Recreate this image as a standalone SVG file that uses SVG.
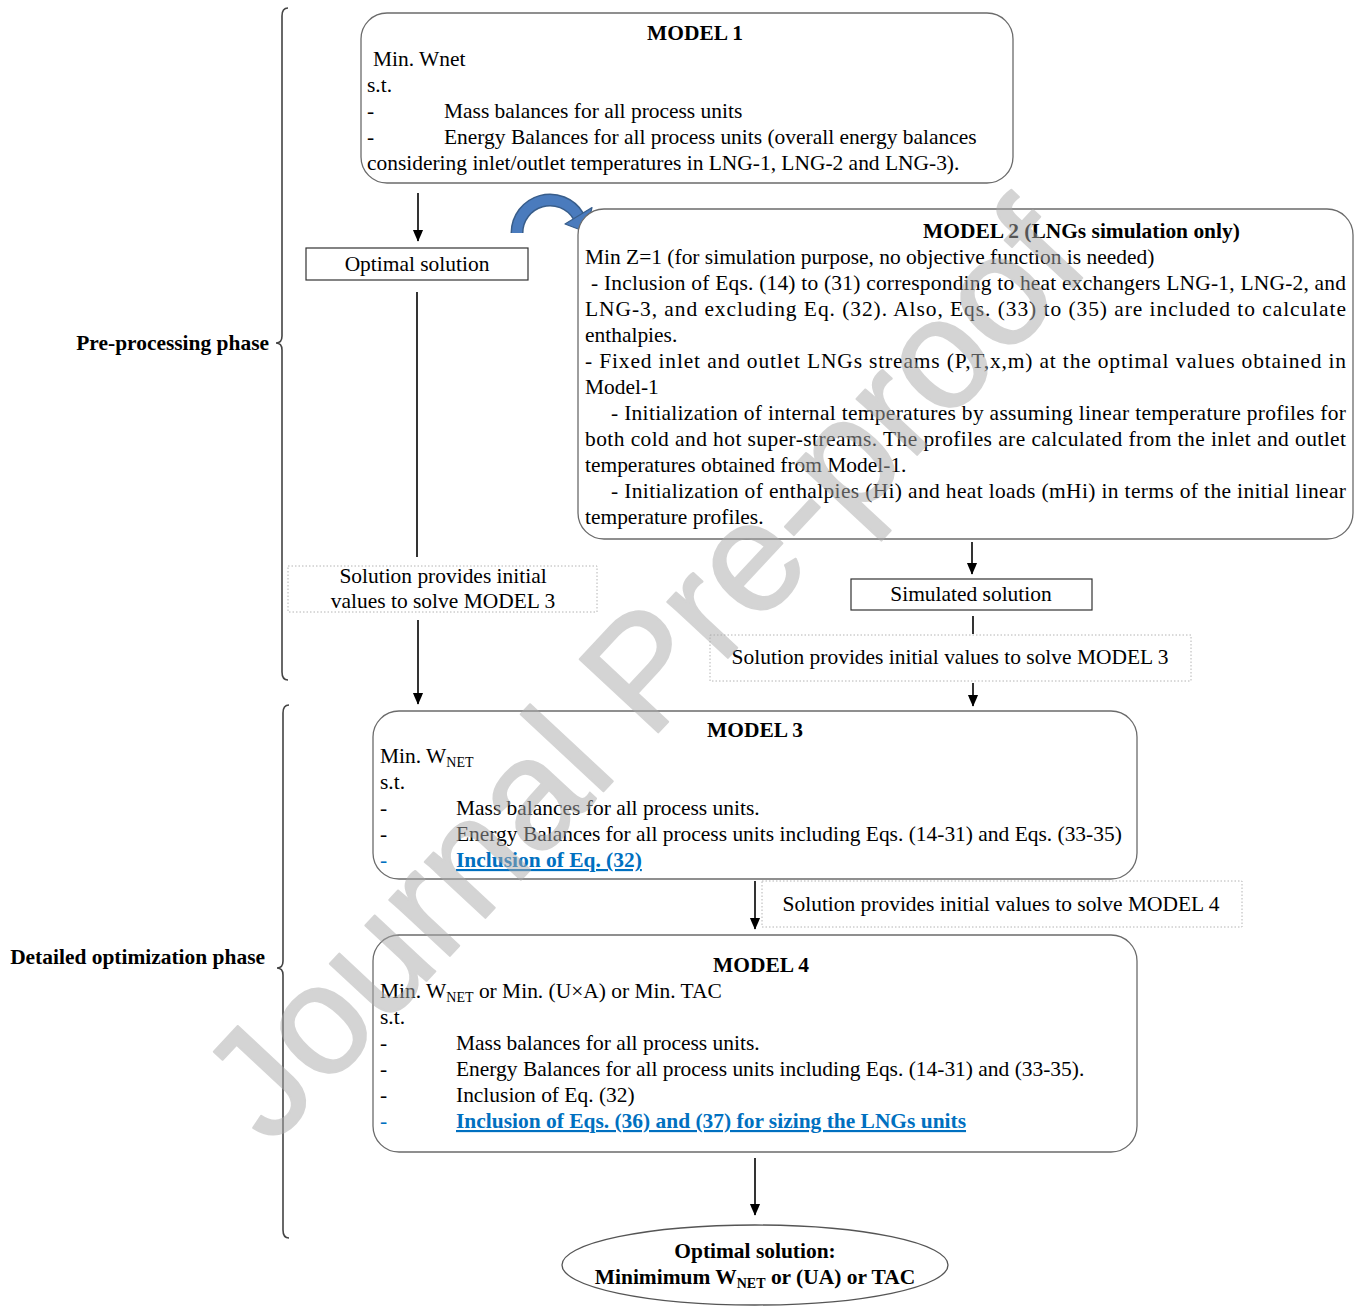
<svg xmlns="http://www.w3.org/2000/svg" width="1359" height="1306" viewBox="0 0 1359 1306">
<style>
.t{font-family:"Liberation Serif","Times New Roman",serif;font-size:21.45px;fill:#000}
.b{font-weight:bold}
.m{text-anchor:middle}
.e{text-anchor:end}
.blue{fill:#0070c0}
.u{text-decoration:underline}
.box{fill:#fff;stroke:#6b6b6b;stroke-width:1.3}
.rect{fill:#fff;stroke:#333;stroke-width:1.2}
.dot{fill:none;stroke:#b4b4b4;stroke-width:1;stroke-dasharray:1.5 2}
.ln{stroke:#000;stroke-width:1.6;fill:none}
.br{stroke:#444;stroke-width:1.6;fill:none}
.wm{font-family:"Liberation Sans",Arial,sans-serif;font-size:156px;fill:#aaa;stroke:#aaa;stroke-width:2;stroke-linejoin:round}
</style>
<defs>
<marker id="a" markerUnits="userSpaceOnUse" markerWidth="12" markerHeight="14" refX="13" refY="6" orient="auto" viewBox="0 0 14 12">
<path d="M0,0 L14,6 L0,12 Z" fill="#000"/>
</marker>
</defs>

<g id="braces">
<path class="br" d="M288,8 Q282,8 282,16 L282,336 Q282,343 276,343 Q282,343 282,350 L282,672 Q282,680 288,680"/>
<path class="br" d="M289,705 Q283,705 283,713 L283,961 Q283,968 277,968 Q283,968 283,975 L283,1230 Q283,1238 289,1238"/>
<text class="t b e" x="269" y="350">Pre-processing phase</text>
<text class="t b e" x="265" y="964">Detailed optimization phase</text>
</g>

<g id="connectors">
<line class="ln" x1="418" y1="193" x2="418" y2="241" marker-end="url(#a)"/>
<line class="ln" x1="417" y1="292" x2="417" y2="557"/>
<line class="ln" x1="418" y1="620" x2="418" y2="704" marker-end="url(#a)"/>
<line class="ln" x1="972" y1="542" x2="972" y2="574" marker-end="url(#a)"/>
<line class="ln" x1="973" y1="616" x2="973" y2="634"/>
<line class="ln" x1="973" y1="683" x2="973" y2="706" marker-end="url(#a)"/>
<line class="ln" x1="755" y1="881" x2="755" y2="929" marker-end="url(#a)"/>
<line class="ln" x1="755" y1="1158" x2="755" y2="1215" marker-end="url(#a)"/>
<g id="curved-arrow">
<path d="M517,233 A33,33 0 0 1 578.3,216" fill="none" stroke="#385d8a" stroke-width="13"/>
<path d="M517,233 A33,33 0 0 1 578.3,216" fill="none" stroke="#4a7bbd" stroke-width="10"/>
<path d="M592,207.5 L565,224 L586,232 Z" fill="#4a7bbd" stroke="#385d8a" stroke-width="1.2" stroke-linejoin="round"/>
</g>
</g>

<g id="model1">
<rect class="box" x="361" y="13" width="652" height="170" rx="26"/>
<text class="t b m" x="695" y="40">MODEL 1</text>
<text class="t" x="373" y="66">Min. Wnet</text>
<text class="t" x="367" y="92">s.t.</text>
<text class="t" x="367" y="118">-</text>
<text class="t" x="444" y="118">Mass balances for all process units</text>
<text class="t" x="367" y="144">-</text>
<text class="t" x="444" y="144">Energy Balances for all process units (overall energy balances</text>
<text class="t" x="367" y="170">considering inlet/outlet temperatures in LNG-1, LNG-2 and LNG-3).</text>
</g>

<g id="optimal-solution">
<rect class="rect" x="306" y="248" width="222" height="32"/>
<text class="t m" x="417" y="271">Optimal solution</text>
</g>

<g id="note-left">
<rect class="dot" x="288" y="566" width="309" height="46"/>
<text class="t m" x="443" y="583">Solution provides initial</text>
<text class="t m" x="443" y="608">values to solve MODEL 3</text>
</g>

<g id="model2">
<rect class="box" x="578" y="209" width="775" height="330" rx="26"/>
<text class="t b" x="923" y="238">MODEL 2 (LNGs simulation only)</text>
<text class="t" x="585" y="264">Min Z=1 (for simulation purpose, no objective function is needed)</text>
<text class="t" x="591" y="290" textLength="755" lengthAdjust="spacing">- Inclusion of Eqs. (14) to (31) corresponding to heat exchangers LNG-1, LNG-2, and</text>
<text class="t" x="585" y="316" textLength="761" lengthAdjust="spacing">LNG-3, and excluding Eq. (32). Also, Eqs. (33) to (35) are included to calculate</text>
<text class="t" x="585" y="342">enthalpies.</text>
<text class="t" x="585" y="368" textLength="761" lengthAdjust="spacing">- Fixed inlet and outlet LNGs streams (P,T,x,m) at the optimal values obtained in</text>
<text class="t" x="585" y="394">Model-1</text>
<text class="t" x="611" y="420" textLength="735" lengthAdjust="spacing">- Initialization of internal temperatures by assuming linear temperature profiles for</text>
<text class="t" x="585" y="446" textLength="761" lengthAdjust="spacing">both cold and hot super-streams. The profiles are calculated from the inlet and outlet</text>
<text class="t" x="585" y="472">temperatures obtained from Model-1.</text>
<text class="t" x="611" y="498" textLength="735" lengthAdjust="spacing">- Initialization of enthalpies (Hi) and heat loads (mHi) in terms of the initial linear</text>
<text class="t" x="585" y="524">temperature profiles.</text>
</g>

<g id="simulated-solution">
<rect class="rect" x="851" y="579" width="241" height="31"/>
<text class="t m" x="971" y="601">Simulated solution</text>
</g>

<g id="note-right">
<rect class="dot" x="710" y="635" width="481" height="46"/>
<text class="t m" x="950" y="664">Solution provides initial values to solve MODEL 3</text>
</g>

<g id="model3">
<rect class="box" x="373" y="711" width="764" height="168" rx="26"/>
<text class="t b m" x="755" y="737">MODEL 3</text>
<text class="t" x="380" y="763">Min. W<tspan font-size="14" dy="4">NET</tspan></text>
<text class="t" x="380" y="789">s.t.</text>
<text class="t" x="380" y="815">-</text>
<text class="t" x="456" y="815">Mass balances for all process units.</text>
<text class="t" x="380" y="841">-</text>
<text class="t" x="456" y="841">Energy Balances for all process units including Eqs. (14-31) and Eqs. (33-35)</text>
<text class="t blue" x="380" y="867">-</text>
<text class="t b blue u" x="456" y="867">Inclusion of Eq. (32)</text>
</g>

<g id="note-model4">
<rect class="dot" x="762" y="881" width="480" height="46"/>
<text class="t m" x="1001" y="911">Solution provides initial values to solve MODEL 4</text>
</g>

<g id="model4">
<rect class="box" x="373" y="935" width="764" height="217" rx="26"/>
<text class="t b m" x="761" y="972">MODEL 4</text>
<text class="t" x="380" y="998">Min. W<tspan font-size="14" dy="4">NET</tspan><tspan dy="-4"> or Min. (U×A) or Min. TAC</tspan></text>
<text class="t" x="380" y="1024">s.t.</text>
<text class="t" x="380" y="1050">-</text>
<text class="t" x="456" y="1050">Mass balances for all process units.</text>
<text class="t" x="380" y="1076">-</text>
<text class="t" x="456" y="1076">Energy Balances for all process units including Eqs. (14-31) and (33-35).</text>
<text class="t" x="380" y="1102">-</text>
<text class="t" x="456" y="1102">Inclusion of Eq. (32)</text>
<text class="t blue" x="380" y="1128">-</text>
<text class="t b blue u" x="456" y="1128">Inclusion of Eqs. (36) and (37) for sizing the LNGs units</text>
</g>

<g id="final">
<ellipse cx="755" cy="1265" rx="193" ry="40" fill="#fff" stroke="#555" stroke-width="1.3"/>
<text class="t b m" x="755" y="1258">Optimal solution:</text>
<text class="t b m" x="755" y="1284">Minimimum W<tspan font-size="14" dy="4">NET</tspan><tspan dy="-4"> or (UA) or TAC</tspan></text>
</g>

<g id="watermark" opacity="0.5">
<text class="wm" text-anchor="middle" transform="translate(682,707) rotate(-47)">Journal Pre-proof</text>
</g>
</svg>
